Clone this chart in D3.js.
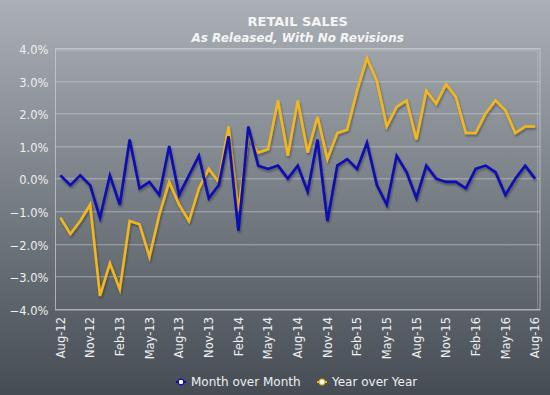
<!DOCTYPE html>
<html>
<head>
<meta charset="utf-8">
<script src="https://cdn.jsdelivr.net/npm/d3@7"></script>
<style>
  body { margin: 0; padding: 0; }
  #chart-area { width: 550px; height: 395px; }
</style>
</head>
<body>
<div id="chart-area"></div>
<script>
// Retail sales, as released
var months = ["Aug-12","Sep-12","Oct-12","Nov-12","Dec-12","Jan-13","Feb-13","Mar-13","Apr-13",
  "May-13","Jun-13","Jul-13","Aug-13","Sep-13","Oct-13","Nov-13","Dec-13","Jan-14","Feb-14",
  "Mar-14","Apr-14","May-14","Jun-14","Jul-14","Aug-14","Sep-14","Oct-14","Nov-14","Dec-14",
  "Jan-15","Feb-15","Mar-15","Apr-15","May-15","Jun-15","Jul-15","Aug-15","Sep-15","Oct-15",
  "Nov-15","Dec-15","Jan-16","Feb-16","Mar-16","Apr-16","May-16","Jun-16","Jul-16","Aug-16"];

var monthOverMonth = [0.1,-0.2,0.1,-0.2,-1.2,0.1,-0.8,1.2,-0.3,-0.1,-0.5,1.0,-0.5,0.1,0.7,-0.6,-0.2,1.3,-1.6,
  1.6,0.4,0.3,0.4,0.0,0.4,-0.4,1.2,-1.3,0.4,0.6,0.3,1.1,-0.2,-0.8,0.7,0.2,-0.6,0.4,0.0,-0.1,
  -0.1,-0.3,0.3,0.4,0.2,-0.5,0.0,0.4,0.0];

var yearOverYear = [-1.2,-1.7,-1.3,-0.8,-3.6,-2.6,-3.4,-1.3,-1.4,-2.4,-1.1,-0.1,-0.8,-1.3,-0.3,0.3,-0.1,1.6,-1.0,
  1.3,0.8,0.9,2.4,0.7,2.4,0.8,1.9,0.6,1.4,1.5,2.7,3.7,3.0,1.6,2.2,2.4,1.2,2.7,2.3,2.9,
  2.5,1.4,1.4,2.0,2.4,2.1,1.4,1.6,1.6];

var tickLabels = ["Aug-12","Nov-12","Feb-13","May-13","Aug-13","Nov-13","Feb-14","May-14","Aug-14",
  "Nov-14","Feb-15","May-15","Aug-15","Nov-15","Feb-16","May-16","Aug-16"];

var yTicks = [-4, -3, -2, -1, 0, 1, 2, 3, 4];

var W = 550, H = 395;
var margin = {left:55.5, right:10, top:48.3, bottom:86};
var width = W - margin.left - margin.right;
var height = H - margin.top - margin.bottom;

var svg = d3.select("#chart-area").append("svg")
    .attr("width", W)
    .attr("height", H)
    .style("font-family", "'DejaVu Sans', Verdana, sans-serif");

var defs = svg.append("defs");
var grad = defs.append("linearGradient")
    .attr("id", "bg")
    .attr("x1", 0).attr("y1", 0).attr("x2", 0).attr("y2", 1);
grad.append("stop").attr("offset", "0%").attr("stop-color", "#aab0b6");
grad.append("stop").attr("offset", "100%").attr("stop-color", "#454c53");

var shadow = defs.append("filter")
    .attr("id", "shadow")
    .attr("x", "-10%").attr("y", "-10%").attr("width", "120%").attr("height", "130%");
shadow.append("feDropShadow")
    .attr("dx", 1).attr("dy", 2)
    .attr("stdDeviation", 1.2)
    .attr("flood-color", "#000")
    .attr("flood-opacity", 0.35);

svg.append("rect")
    .attr("width", W)
    .attr("height", H)
    .attr("fill", "url(#bg)");

// Titles
svg.append("text")
    .attr("x", margin.left + width / 2)
    .attr("y", 26)
    .attr("text-anchor", "middle")
    .attr("font-size", "13px")
    .attr("font-weight", "bold")
    .attr("fill", "#f4f5f6")
    .text("RETAIL SALES");

svg.append("text")
    .attr("x", margin.left + width / 2)
    .attr("y", 42)
    .attr("text-anchor", "middle")
    .attr("font-size", "12px")
    .attr("font-weight", "bold")
    .attr("font-style", "italic")
    .attr("fill", "#f4f5f6")
    .text("As Released, With No Revisions");

var g = svg.append("g")
    .attr("transform", "translate(" + margin.left + "," + margin.top + ")");

var x = d3.scaleBand()
    .domain(months)
    .range([0, width]);

var y = d3.scaleLinear()
    .domain([-4, 4])
    .range([height, 0]);

// gridlines
g.append("g")
    .attr("class", "grid")
    .selectAll("line")
    .data(yTicks)
    .enter()
    .append("line")
    .attr("x1", 0)
    .attr("x2", width)
    .attr("y1", (d) => Math.round(y(d)) + 0.5)
    .attr("y2", (d) => Math.round(y(d)) + 0.5)
    .attr("stroke", "#d4d8dc")
    .attr("stroke-opacity", 0.55)
    .attr("stroke-width", 1);

// plot frame
g.append("rect")
    .attr("x", 0)
    .attr("y", 0.5)
    .attr("width", width)
    .attr("height", Math.round(height))
    .attr("fill", "none")
    .attr("stroke", "#cdd1d5")
    .attr("stroke-opacity", 0.7);
g.append("path")
    .attr("d", "M0," + 2.5 + "H" + (width - 2.5) + "V" + height)
    .attr("fill", "none")
    .attr("stroke", "#cdd1d5")
    .attr("stroke-opacity", 0.35);

// Y axis
var yAxisCall = d3.axisLeft(y)
    .tickValues(yTicks)
    .tickSize(0)
    .tickPadding(7)
    .tickFormat((d) => d3.format(".1f")(d) + "%");

var yAxis = g.append("g")
    .attr("class", "y axis")
    .call(yAxisCall);
yAxis.select(".domain").remove();
yAxis.selectAll("text")
    .attr("font-size", "11.5px")
    .attr("font-family", "'DejaVu Sans', Verdana, sans-serif")
    .attr("fill", "#eef0f2")
    .attr("dy", "0.45em");

// X axis
var xAxisCall = d3.axisBottom(x)
    .tickValues(tickLabels)
    .tickSize(0)
    .tickPadding(0);

var xAxis = g.append("g")
    .attr("class", "x axis")
    .attr("transform", "translate(0," + height + ")")
    .call(xAxisCall);
xAxis.select(".domain").remove();
xAxis.selectAll("text")
    .attr("font-size", "11.5px")
    .attr("font-family", "'DejaVu Sans', Verdana, sans-serif")
    .attr("fill", "#eef0f2")
    .attr("text-anchor", "end")
    .attr("transform", "rotate(-90)")
    .attr("x", -8)
    .attr("y", 0)
    .attr("dy", "0.38em");

// Lines
var line = d3.line()
    .x((d, i) => x(months[i]) + x.bandwidth() / 2)
    .y((d) => y(d));

var series = [
  {name: "Year over Year", values: yearOverYear, color: "#f2b71f"},
  {name: "Month over Month", values: monthOverMonth, color: "#0a0ab4"}
];

g.selectAll(".series")
    .data(series)
    .enter()
    .append("path")
    .attr("class", "series")
    .attr("d", (d) => line(d.values))
    .attr("fill", "none")
    .attr("stroke", (d) => d.color)
    .attr("stroke-width", 2.6)
    .attr("stroke-linejoin", "miter")
    .attr("filter", "url(#shadow)");

// Legend
var legendItems = [
  {name: "Month over Month", color: "#0a0ab4", x: 181},
  {name: "Year over Year", color: "#f2b71f", x: 322}
];

var legend = svg.selectAll(".legend")
    .data(legendItems)
    .enter()
    .append("g")
    .attr("class", "legend")
    .attr("transform", (d) => "translate(" + d.x + ",382)");

legend.append("line")
    .attr("x1", -5).attr("x2", 5)
    .attr("stroke", (d) => d.color)
    .attr("stroke-width", 2);
legend.append("circle")
    .attr("r", 2.8)
    .attr("fill", "#ffffff")
    .attr("stroke", (d) => d.color)
    .attr("stroke-width", 1.2);
legend.append("text")
    .attr("x", 10)
    .attr("y", 0)
    .attr("dy", "0.36em")
    .attr("font-size", "12px")
    .attr("fill", "#eef0f2")
    .text((d) => d.name);
</script>
</body>
</html>
